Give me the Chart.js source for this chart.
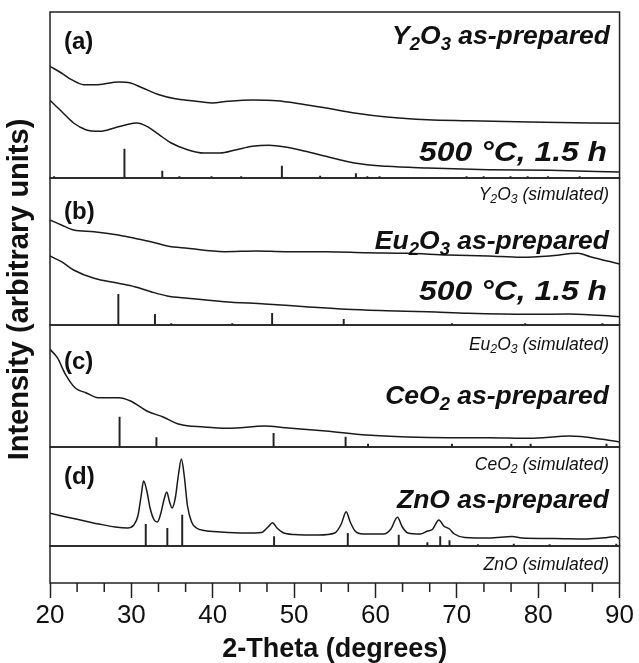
<!DOCTYPE html>
<html>
<head>
<meta charset="utf-8">
<script src="https://cdn.jsdelivr.net/npm/chart.js@4.4.1/dist/chart.umd.min.js"></script>
<style>
  html, body { margin: 0; padding: 0; background: #fff; }
  #wrap { width: 639px; height: 663px; }
</style>
</head>
<body>
<div id="wrap"><canvas id="xrdChart" width="639" height="663"></canvas></div>
<script>
// 2-theta axis
const xTicks = [20, 30, 40, 50, 60, 70, 80, 90];

// (a) Y2O3 as-prepared
const y2o3PrepAngle = [20, 21.4, 22.65, 24.15, 25.9, 28.4, 29.9, 31.4, 33.4, 35.4, 37.4, 39.9, 41.9, 44.9, 47.9, 50.9, 53.9, 57.4, 61.4, 66.4, 71.4, 78.9, 90];
const y2o3PrepInt   = [111.7, 105, 98.3, 93.3, 93.3, 96, 95, 90, 83.3, 79.3, 77.3, 75, 76.7, 78, 77.3, 74, 70, 65, 61, 58.3, 57.3, 56, 54.7];
// (a) Y2O3 500 C, 1.5 h
const y2o3HeatAngle = [20, 21.4, 22.9, 24.4, 26.15, 27.9, 29.4, 30.65, 31.9, 33.4, 34.9, 36.9, 38.9, 40.9, 42.9, 44.9, 46.9, 48.9, 51.4, 53.9, 57.4, 61.4, 66.4, 73.9, 81.4, 90];
const y2o3HeatInt   = [77.7, 66.7, 55, 48.3, 46.7, 50, 53.3, 55, 51.7, 43.3, 35, 28.3, 25, 25, 28.3, 31.7, 32.7, 31, 26.7, 21.7, 15, 11.7, 10, 8.3, 7.7, 6];
// Y2O3 simulated lines
const y2o3SimAngle = [20.5, 29.15, 33.8, 35.9, 39.85, 43.5, 48.5, 53.2, 57.6, 59.0, 60.5, 71.2, 73.3, 76.6, 78.7, 81.2, 85.1];
const y2o3SimInt   = [1.5, 29, 7, 1.5, 1.5, 1.5, 12, 2, 4.5, 1.5, 1.5, 1.5, 1.5, 1.5, 1.5, 1.5, 1.5];

// (b) Eu2O3 as-prepared
const eu2o3PrepAngle = [20, 21.4, 22.9, 25.4, 28.4, 30.4, 32.4, 34.4, 36.9, 41.4, 45.4, 48.9, 53.9, 58.9, 63.9, 68.9, 73.9, 77.9, 81.4, 84.9, 86.4, 90];
const eu2o3PrepInt   = [105, 100, 95, 93.3, 90, 86.7, 83.3, 79, 76.7, 73.3, 74, 73.3, 73.3, 72.3, 71.7, 70, 69, 67.7, 69, 71.7, 68.3, 61];
// (b) Eu2O3 500 C, 1.5 h
const eu2o3HeatAngle = [20, 21.4, 22.9, 25.4, 28.4, 30.4, 32.4, 34.4, 36.9, 41.4, 46.4, 51.4, 56.4, 61.4, 66.4, 71.4, 78.9, 83.9, 90];
const eu2o3HeatInt   = [69, 63.3, 55, 46.7, 41.7, 38.3, 33.3, 29, 26.7, 23.3, 21, 18.3, 15.7, 14.3, 13.3, 11.7, 10.7, 11, 8.3];
// Eu2O3 simulated lines
const eu2o3SimAngle = [28.4, 32.9, 34.9, 42.4, 47.3, 56.1, 69.4, 78.4, 87.9];
const eu2o3SimInt   = [30.7, 10.7, 1.5, 1.5, 11.7, 5.7, 1.5, 1.5, 1.5];

// (c) CeO2 as-prepared
const ceo2PrepAngle = [20, 20.9, 21.9, 23.15, 24.4, 25.9, 28.4, 29.9, 31.9, 33.9, 35.9, 38.9, 41.9, 46.4, 48.9, 53.9, 58.9, 63.9, 68.9, 73.9, 78.9, 83.9, 87.9, 90];
const ceo2PrepInt   = [97.7, 89.3, 72.7, 58.7, 54.3, 49.3, 49.3, 46, 36, 30, 22.7, 20, 18.7, 21, 19.3, 16, 12, 10, 9.3, 9.3, 8.7, 11, 7.7, 5];
// CeO2 simulated lines
const ceo2SimAngle = [28.55, 33.08, 47.48, 56.33, 59.09, 69.4, 76.7, 79.07, 88.4];
const ceo2SimInt   = [30, 9.3, 13.7, 10, 3, 3, 3, 3, 3];

// (d) ZnO as-prepared
const znoPrepAngle = [20, 22, 24, 26, 28, 29.5, 30.3, 30.8, 31.2, 31.5, 31.9, 32.3, 32.8, 33.2, 33.6, 34.0, 34.35, 34.7, 35.0, 35.4, 35.8, 36.15, 36.5, 36.9, 37.4, 38.0, 39, 41, 44, 46, 46.8, 47.35, 47.9, 48.6, 50, 53, 55, 55.8, 56.4, 56.9, 57.5, 58.5, 61, 61.9, 62.7, 63.3, 64, 65.5, 66.4, 67.0, 67.8, 68.4, 69.1, 69.7, 71, 74, 76.8, 78, 82, 86, 88.5, 89.5, 90];
const znoPrepInt   = [32.7, 29, 25.5, 22, 19, 18, 21, 30, 50, 65, 55, 38, 26, 24, 32, 46, 54, 44, 38, 48, 72, 87, 70, 40, 24, 18, 15.5, 14, 13, 13.5, 19, 23.3, 18, 13.5, 11.5, 11, 13, 22, 34.3, 24, 15, 12, 12, 17, 28.7, 19, 13, 12, 15, 16.5, 26, 20, 17, 12, 8.5, 8, 9.5, 8, 7.5, 7, 8.5, 9.5, 7];
// ZnO simulated lines
const znoSimAngle = [31.77, 34.42, 36.25, 47.54, 56.6, 62.86, 66.38, 67.96, 69.1, 72.6, 77.0, 81.4, 89.6];
const znoSimInt   = [21.7, 17.7, 31, 9.3, 12.7, 11, 3.3, 9.3, 5.3, 1.5, 2, 1.5, 2];

const FONT = "'Liberation Sans', Arial, Helvetica, sans-serif";
const INK = '#1a1a1a';

function pts(xs, ys) {
    return xs.map((x, i) => ({ x: x, y: ys[i] }));
}

function curve(xs, ys, axis) {
    return {
        type: 'line',
        data: pts(xs, ys),
        yAxisID: axis,
        borderColor: INK,
        borderWidth: 1.5,
        pointRadius: 0,
        fill: false,
        cubicInterpolationMode: 'monotone',
    };
}

function sticks(xs, ys, axis) {
    return {
        type: 'bar',
        data: pts(xs, ys),
        yAxisID: axis,
        backgroundColor: '#222',
        barThickness: 1.3,
        grouped: false,
    };
}

function panelAxis(weight, height) {
    return {
        type: 'linear',
        position: 'left',
        stack: 'xrd',
        stackWeight: height,
        weight: weight,
        min: 0,
        max: height,
        display: false,
    };
}

// text pieces: [text, isSubscript]; fit = optional target width
const panelTexts = [
    { axis: 'ya', x: 64, dy: 30, align: 'left', size: 24, style: 'bold', parts: [['(a)', 0]] },
    { axis: 'ya', x: 610, dy: 25, align: 'right', size: 26.5, style: 'italic bold', parts: [['Y', 0], ['2', 1], ['O', 0], ['3', 1], [' as-prepared', 0]] },
    { axis: 'ya', x: 607, dy: 141, align: 'right', size: 28, style: 'italic bold', fit: 188, parts: [['500 °C, 1.5 h', 0]] },
    { axis: 'yb', x: 609, dy: 17, align: 'right', size: 17.5, style: 'italic', parts: [['Y', 0], ['2', 1], ['O', 0], ['3', 1], [' (simulated)', 0]] },
    { axis: 'yb', x: 64, dy: 34, align: 'left', size: 24, style: 'bold', parts: [['(b)', 0]] },
    { axis: 'yb', x: 609, dy: 64, align: 'right', size: 26.5, style: 'italic bold', parts: [['Eu', 0], ['2', 1], ['O', 0], ['3', 1], [' as-prepared', 0]] },
    { axis: 'yb', x: 607, dy: 114, align: 'right', size: 28, style: 'italic bold', fit: 188, parts: [['500 °C, 1.5 h', 0]] },
    { axis: 'yc', x: 609, dy: 20, align: 'right', size: 17.5, style: 'italic', parts: [['Eu', 0], ['2', 1], ['O', 0], ['3', 1], [' (simulated)', 0]] },
    { axis: 'yc', x: 64, dy: 37, align: 'left', size: 24, style: 'bold', parts: [['(c)', 0]] },
    { axis: 'yc', x: 609, dy: 72, align: 'right', size: 26.5, style: 'italic bold', parts: [['CeO', 0], ['2', 1], [' as-prepared', 0]] },
    { axis: 'yd', x: 609, dy: 18, align: 'right', size: 17.5, style: 'italic', parts: [['CeO', 0], ['2', 1], [' (simulated)', 0]] },
    { axis: 'yd', x: 64, dy: 30, align: 'left', size: 24, style: 'bold', parts: [['(d)', 0]] },
    { axis: 'yd', x: 609, dy: 54, align: 'right', size: 26.5, style: 'italic bold', parts: [['ZnO as-prepared', 0]] },
    { axis: 'yz', x: 609, dy: 19, align: 'right', size: 17.5, style: 'italic', parts: [['ZnO (simulated)', 0]] },
];

function drawRich(ctx, item, top) {
    const subScale = 0.7;
    const fontFor = p => item.style + ' ' + (p[1] ? item.size * subScale : item.size) + 'px ' + FONT;
    const widths = item.parts.map(p => {
        ctx.font = fontFor(p);
        return ctx.measureText(p[0]).width;
    });
    const natural = widths.reduce((a, b) => a + b, 0);
    const sx = item.fit ? item.fit / natural : 1;
    const total = natural * sx;
    const x0 = item.align === 'right' ? item.x - total : item.x;
    const y = top + item.dy;
    ctx.save();
    ctx.translate(x0, y);
    ctx.scale(sx, 1);
    let x = 0;
    item.parts.forEach((p, i) => {
        ctx.font = fontFor(p);
        ctx.fillText(p[0], x, p[1] ? item.size * 0.28 : 0);
        x += widths[i];
    });
    ctx.restore();
}

const framePlugin = {
    id: 'framePlugin',
    afterDraw(chart) {
        const ctx = chart.ctx;
        const area = chart.chartArea;
        const xs = chart.scales.x;
        ctx.save();
        ctx.strokeStyle = '#222';
        ctx.lineWidth = 1.5;
        ['ya', 'yb', 'yc', 'yd', 'yz'].forEach(id => {
            const s = chart.scales[id];
            ctx.strokeRect(area.left, s.top, area.right - area.left, s.bottom - s.top);
        });
        // minor ticks on the x axis
        ctx.beginPath();
        for (let i = 0; i < xTicks.length - 1; i++) {
            for (let k = 1; k < 3; k++) {
                const px = xs.getPixelForValue(xTicks[i] + k * (xTicks[i + 1] - xTicks[i]) / 3);
                ctx.moveTo(px, area.bottom);
                ctx.lineTo(px, area.bottom + 9);
            }
        }
        ctx.stroke();

        ctx.fillStyle = '#111';
        ctx.textBaseline = 'middle';
        ctx.textAlign = 'left';
        panelTexts.forEach(item => drawRich(ctx, item, chart.scales[item.axis].top));

        // y axis title
        ctx.translate(20, (area.top + area.bottom) / 2 - 8);
        ctx.rotate(-Math.PI / 2);
        ctx.textAlign = 'center';
        ctx.font = 'bold 29px ' + FONT;
        ctx.fillText('Intensity (arbitrary units)', 0, 0);
        ctx.restore();
    }
};

const ctx = document.getElementById('xrdChart').getContext('2d');

new Chart(ctx, {
    data: {
        datasets: [
            curve(y2o3PrepAngle, y2o3PrepInt, 'ya'),
            curve(y2o3HeatAngle, y2o3HeatInt, 'ya'),
            sticks(y2o3SimAngle, y2o3SimInt, 'ya'),
            curve(eu2o3PrepAngle, eu2o3PrepInt, 'yb'),
            curve(eu2o3HeatAngle, eu2o3HeatInt, 'yb'),
            sticks(eu2o3SimAngle, eu2o3SimInt, 'yb'),
            curve(ceo2PrepAngle, ceo2PrepInt, 'yc'),
            sticks(ceo2SimAngle, ceo2SimInt, 'yc'),
            curve(znoPrepAngle, znoPrepInt, 'yd'),
            sticks(znoSimAngle, znoSimInt, 'yd'),
        ],
    },
    options: {
        responsive: false,
        animation: false,
        layout: { padding: { left: 50, right: 19, top: 12, bottom: 0 } },
        plugins: {
            legend: { display: false },
            tooltip: { enabled: false },
        },
        scales: {
            x: {
                type: 'linear',
                min: 20,
                max: 90,
                offset: false,
                afterBuildTicks: (axis) => { axis.ticks = xTicks.map(v => ({ value: v })); },
                ticks: {
                    color: '#111',
                    font: { family: FONT, size: 26, lineHeight: 1 },
                    padding: 5,
                    maxRotation: 0,
                    autoSkip: false,
                },
                grid: {
                    offset: false,
                    drawOnChartArea: false,
                    tickLength: 15,
                    tickWidth: 1.5,
                    tickColor: '#222',
                },
                border: { display: false },
                title: {
                    display: true,
                    text: '2-Theta (degrees)',
                    color: '#111',
                    font: { family: FONT, size: 27, weight: 'bold', lineHeight: 1 },
                    padding: { top: 2, bottom: 0 },
                },
            },
            ya: panelAxis(5, 166),
            yb: panelAxis(4, 147),
            yc: panelAxis(3, 122),
            yd: panelAxis(2, 99),
            yz: panelAxis(1, 37),
        },
    },
    plugins: [framePlugin],
});
</script>
</body>
</html>
